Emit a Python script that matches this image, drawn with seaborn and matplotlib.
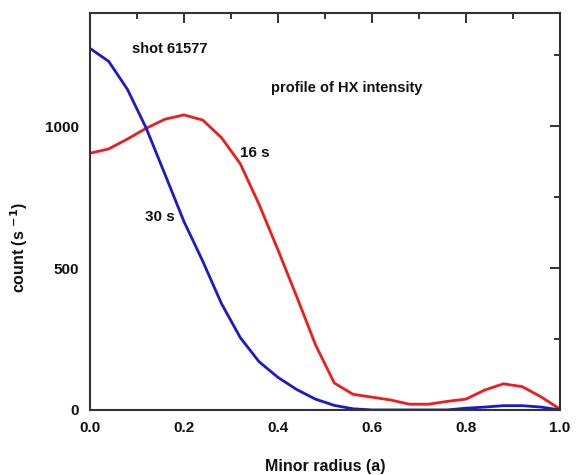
import numpy as np
import pandas as pd
import seaborn as sns
import matplotlib
matplotlib.use('Agg')
import matplotlib.pyplot as plt
from matplotlib.ticker import MultipleLocator

## radial profile
radius = [0.0, 0.04, 0.08, 0.12, 0.16, 0.20, 0.24, 0.28, 0.32, 0.36, 0.40, 0.44, 0.48,
          0.52, 0.56, 0.60, 0.64, 0.68, 0.72, 0.76, 0.80, 0.84, 0.88, 0.92, 0.96, 1.0]
count_16s = [905, 920, 955, 993, 1025, 1040, 1022, 960, 868, 725, 565, 400, 230,
             95, 55, 45, 35, 20, 20, 30, 38, 70, 92, 82, 46, 3]
count_30s = [1275, 1229, 1130, 993, 830, 665, 525, 375, 255, 170, 115, 72, 38,
             16, 4, 0, 0, 0, 0, 0, 6, 10, 15, 15, 10, 0]

sns.set_style('white')
plt.rcParams['font.family'] = ['Liberation Sans', 'DejaVu Sans']
plt.rcParams['font.weight'] = 'bold'
plt.rcParams['text.color'] = '#111111'

df = pd.DataFrame({'r': radius + radius,
                   'count': count_16s + count_30s,
                   'time': ['16 s'] * len(radius) + ['30 s'] * len(radius)})

f, ax = plt.subplots(figsize=(5.76, 4.75), dpi=100)
f.subplots_adjust(left=0.156, right=0.972, bottom=0.137, top=0.973)

sns.lineplot(data=df, x='r', y='count', hue='time', palette={'16 s': '#ee1c1c', '30 s': '#1a1acc'},
             lw=2, ax=ax, legend=False)

ax.set_xlim(0, 1)
ax.set_ylim(0, 1400)
ax.xaxis.set_major_locator(MultipleLocator(0.2))
ax.xaxis.set_minor_locator(MultipleLocator(0.1))
ax.yaxis.set_major_locator(MultipleLocator(500))
ax.yaxis.set_minor_locator(MultipleLocator(250))
ax.set_xticks([0, 0.2, 0.4, 0.6, 0.8, 1.0])
ax.set_xticklabels(['0.0', '0.2', '0.4', '0.6', '0.8', '1.0'])
ax.tick_params(which='major', direction='in', length=7, width=1.3, top=True, right=True,
               labelsize=11, colors='#222222', labelcolor='#111111', pad=8)
ax.tick_params(which='minor', direction='in', length=4, width=1.3, top=True, right=True)
for lbl in ax.get_xticklabels() + ax.get_yticklabels():
    lbl.set_fontweight('bold')
for s in ax.spines.values():
    s.set_linewidth(1.5)
    s.set_color('#333333')

ax.set_xlabel('Minor radius (a)', fontsize=11.5, fontweight='bold', color='#111111')
ax.set_ylabel(r'count (s $^{\mathbf{-1}}$)', fontsize=11.5, fontweight='bold', color='#111111')
ax.xaxis.set_label_coords(0.5, -0.123)
ax.yaxis.set_label_coords(-0.128, 0.41)

ax.text(0.09, 0.91, 'shot 61577', transform=ax.transAxes, fontsize=10.5, fontweight='bold', va='center')
ax.text(0.385, 0.81, 'profile of HX intensity', transform=ax.transAxes, fontsize=10.5, fontweight='bold', va='center')
ax.text(0.32, 0.648, '16 s', transform=ax.transAxes, fontsize=11, fontweight='bold', va='center')
ax.text(0.117, 0.485, '30 s', transform=ax.transAxes, fontsize=11, fontweight='bold', va='center')

f.savefig('out.png', dpi=100)
